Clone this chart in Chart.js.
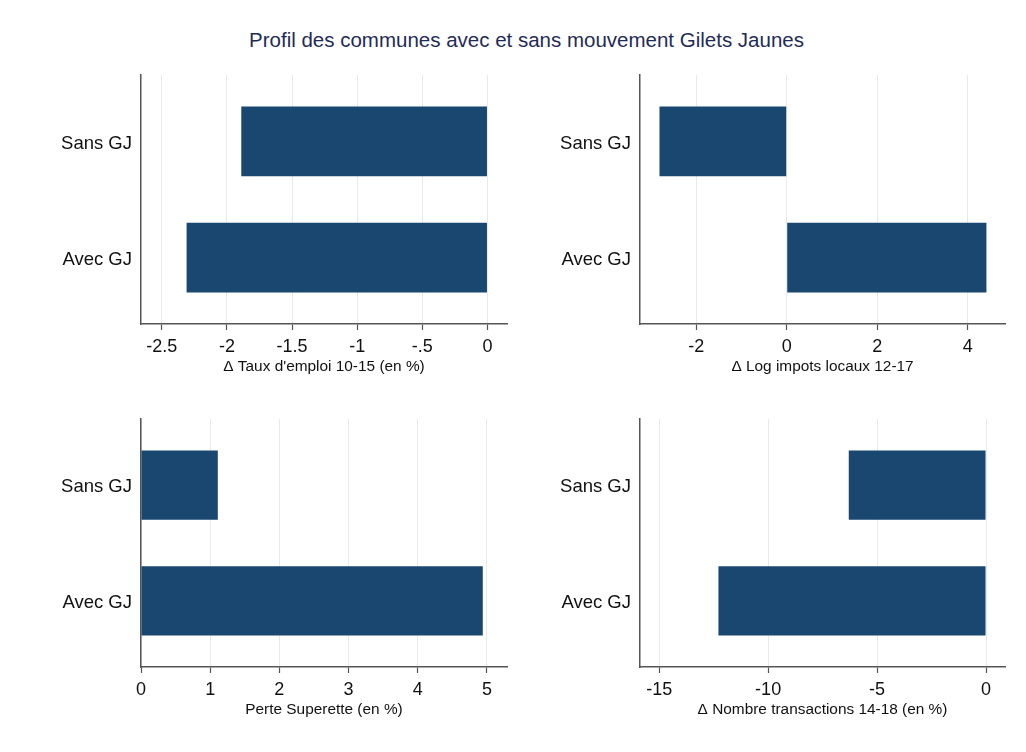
<!DOCTYPE html>
<html>
<head>
<meta charset="utf-8">
<script src="https://cdn.jsdelivr.net/npm/chart.js@4"></script>
<style>
  body { margin: 0; background: #fff; width: 1026px; height: 752px; position: relative; overflow: hidden; }
  #title { position: absolute; left: 0; width: 1053px; top: 28px; text-align: center;
           font: 20.5px "Liberation Sans", Arial, sans-serif; color: #1f2b57; }
  .panel { position: absolute; }
</style>
</head>
<body>
<div id="title">Profil des communes avec et sans mouvement Gilets Jaunes</div>
<canvas id="c1" class="panel" width="513" height="330" style="left:0;top:70px"></canvas>
<canvas id="c2" class="panel" width="513" height="330" style="left:513px;top:70px"></canvas>
<canvas id="c3" class="panel" width="513" height="330" style="left:0;top:410px"></canvas>
<canvas id="c4" class="panel" width="513" height="330" style="left:513px;top:410px"></canvas>
<script>
// groupes (du haut vers le bas)
var categories = ["Sans GJ", "Avec GJ"];

// valeurs par panneau : [Sans GJ, Avec GJ]
var emploiVals = [-1.89, -2.31];
var impotsVals = [-2.81, 4.41];
var superetteVals = [1.11, 4.94];
var transactionsVals = [-6.3, -12.28];

// graduations de l'axe x
var emploiTicks = [-2.5, -2, -1.5, -1, -0.5, 0];
var impotsTicks = [-2, 0, 2, 4];
var superetteTicks = [0, 1, 2, 3, 4, 5];
var transactionsTicks = [-15, -10, -5, 0];

// bornes de l'axe x
var emploiRange = [-2.66, 0.15];
var impotsRange = [-3.24, 4.82];
var superetteRange = [0, 5.29];
var transactionsRange = [-15.88, 0.87];

var axisTitles = [
  "\u0394 Taux d'emploi 10-15 (en %)",
  "\u0394 Log impots locaux 12-17",
  "Perte Superette (en %)",
  "\u0394 Nombre transactions 14-18 (en %)"
];

var FONT = "'Liberation Sans', Arial, Helvetica, sans-serif";
var BAR = "#1a476f";

// format Stata : -.5 au lieu de -0.5
function stataNum(v) {
  var s = String(Math.round(v * 1000) / 1000);
  return s.replace(/^(-?)0\./, "$1.");
}

function makePanel(id, vals, ticks, range, title, yWidth, pad) {
  var ctx = document.getElementById(id).getContext("2d");
  var points = categories.map(function(c, i) { return { x: vals[i], y: i }; });
  return new Chart(ctx, {
    type: "bar",
    data: {
      datasets: [{
        data: points,
        backgroundColor: BAR,
        borderWidth: 0,
        categoryPercentage: 1,
        barPercentage: 0.6
      }]
    },
    options: {
      indexAxis: "y",
      responsive: false,
      animation: false,
      layout: { padding: pad },
      plugins: { legend: { display: false }, tooltip: { enabled: false } },
      scales: {
        x: {
          type: "linear",
          min: range[0],
          max: range[1],
          afterBuildTicks: function(s) { s.ticks = ticks.map(function(v) { return { value: v }; }); },
          afterFit: function(s) { s.height = 52; },
          grid: { color: "#e4ebf0", lineWidth: 1, tickLength: 6, tickColor: "#555", tickWidth: 1.2 },
          border: { display: true, color: "#555", width: 1.5 },
          ticks: {
            color: "#111", padding: 6,
            font: { family: FONT, size: 18 },
            maxRotation: 0, autoSkip: false,
            callback: function(v) { return stataNum(v); }
          },
          title: {
            display: true, text: title, color: "#111",
            font: { family: FONT, size: 15.4 },
            padding: { top: 0, bottom: 0 }
          }
        },
        y: {
          type: "linear",
          reverse: true,
          offset: false,
          min: -0.572,
          max: 1.572,
          afterBuildTicks: function(s) { s.ticks = categories.map(function(c, i) { return { value: i }; }); },
          afterFit: function(s) { s.width = yWidth; s.paddingTop = 0; s.paddingBottom = 0; },
          grid: { display: false, drawTicks: false, offset: false },
          border: { display: true, color: "#555", width: 1.5 },
          ticks: {
            color: "#111", padding: 9, labelOffset: 2,
            font: { family: FONT, size: 18.5 },
            callback: function(v) { return categories[v]; }
          }
        }
      }
    }
  });
}

makePanel("c1", emploiVals, emploiTicks, emploiRange, axisTitles[0], 141, { top: 5, right: 6, bottom: 24, left: 0 });
makePanel("c2", impotsVals, impotsTicks, impotsRange, axisTitles[1], 127, { top: 5, right: 21, bottom: 24, left: 0 });
makePanel("c3", superetteVals, superetteTicks, superetteRange, axisTitles[2], 141, { top: 9, right: 6, bottom: 21, left: 0 });
makePanel("c4", transactionsVals, transactionsTicks, transactionsRange, axisTitles[3], 127, { top: 9, right: 21, bottom: 21, left: 0 });
</script>
</body>
</html>
